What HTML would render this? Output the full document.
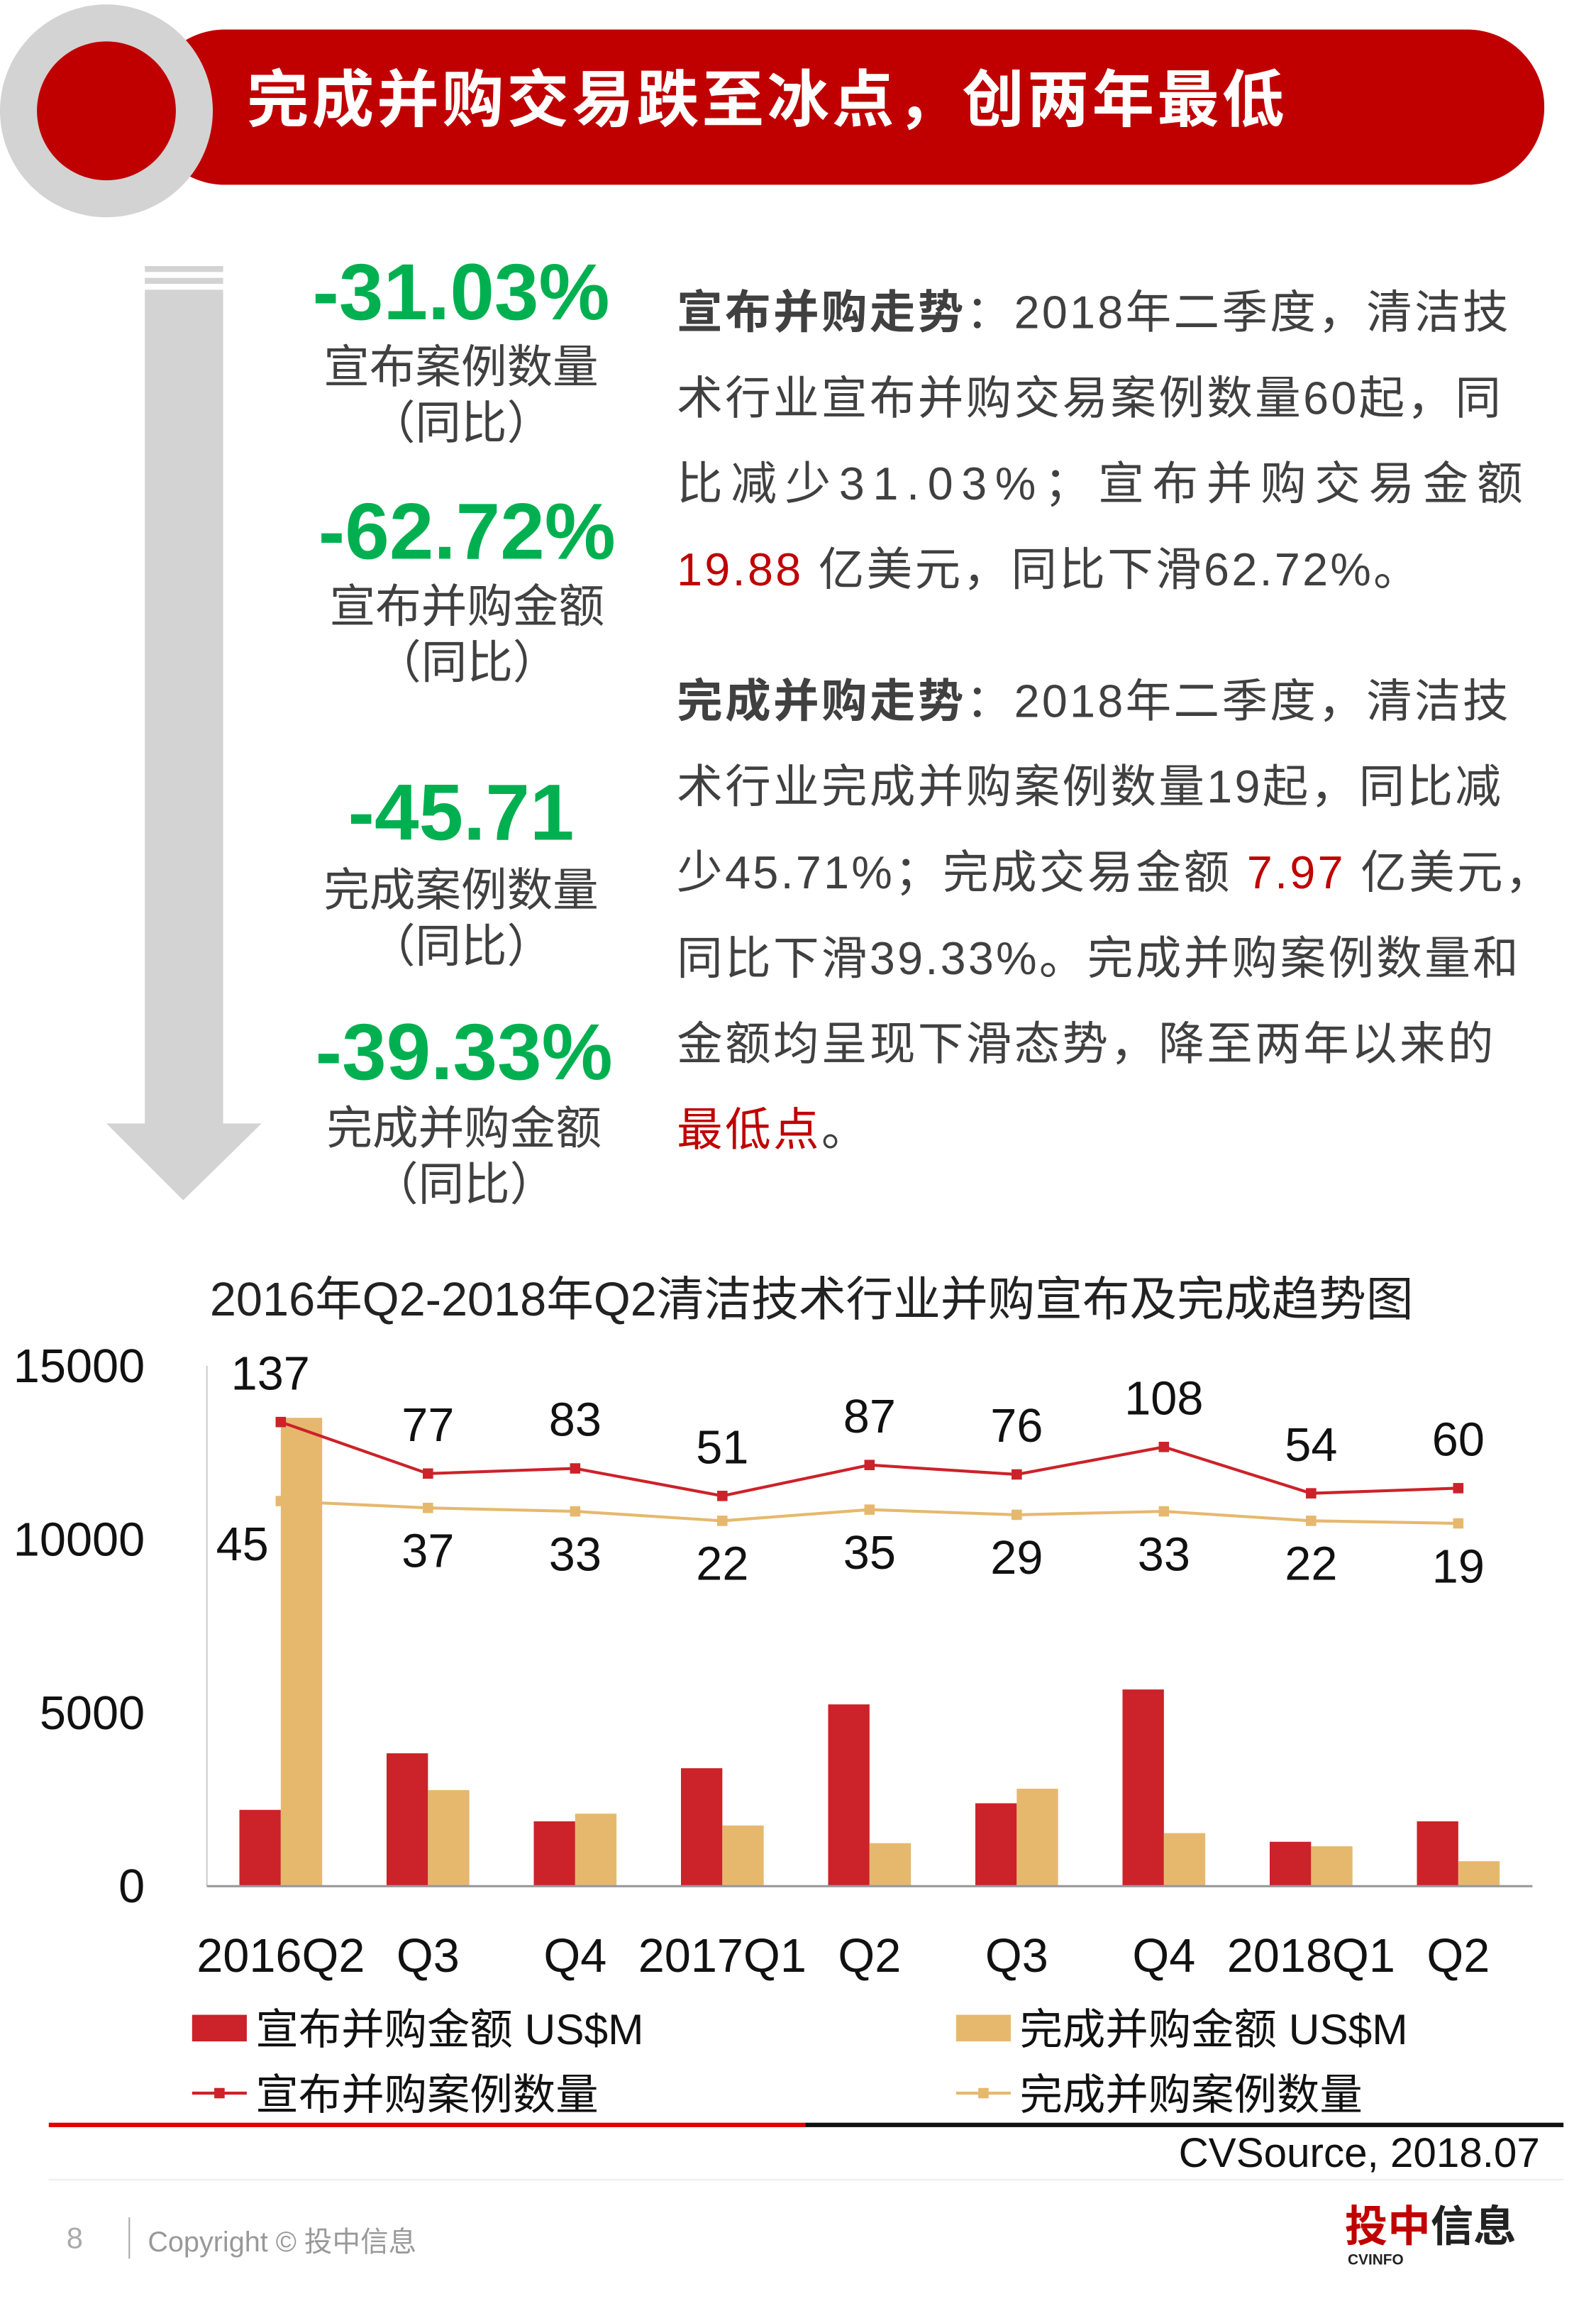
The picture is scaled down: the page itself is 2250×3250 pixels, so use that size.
<!DOCTYPE html>
<html><head><meta charset="utf-8">
<style>
html,body{margin:0;padding:0;background:#fff;width:2250px;height:3250px;overflow:hidden}
#page{position:absolute;left:0;top:0;width:1080px;height:1560px;transform:scale(2.083333);transform-origin:0 0;font-family:"Liberation Sans","Noto Sans CJK SC",sans-serif;color:#333}
.abs{position:absolute;white-space:nowrap}
.g{color:#00b050;font-weight:bold;font-size:54px;text-align:center;width:260px;left:182px;line-height:60px}
.lab{font-size:31px;color:#404040;text-align:center;width:260px;left:182px;line-height:38px}
.p{left:458px;font-size:31px;letter-spacing:1.6px;color:#404040;line-height:58px}
.r{color:#c00000}
b{color:#404040}
</style></head><body>
<div id="page">
<svg class="abs" style="left:0;top:0" width="1080" height="160">
<rect x="100" y="20" width="945" height="105" rx="52" fill="#c00000"/>
<circle cx="72" cy="75" r="72" fill="#d3d3d3"/>
<circle cx="72" cy="75" r="47" fill="#c00000"/>
</svg>
<div class="abs" style="left:167px;top:40px;font-size:42px;letter-spacing:2px;font-weight:bold;color:#fff;line-height:56px">完成并购交易跌至冰点，创两年最低</div>

<svg class="abs" style="left:60px;top:175px" width="130" height="645">
<rect x="38" y="5" width="53" height="4" fill="#d3d3d3"/>
<rect x="38" y="13" width="53" height="4" fill="#d3d3d3"/>
<rect x="38" y="21" width="53" height="565" fill="#d3d3d3"/>
<polygon points="12,585 117,585 64,637" fill="#d3d3d3"/>
</svg>

<div class="abs g" style="top:168px">-31.03%</div>
<div class="abs lab" style="top:230px">宣布案例数量<br>（同比）</div>
<div class="abs g" style="top:330px;left:186px">-62.72%</div>
<div class="abs lab" style="top:392px;left:186px">宣布并购金额<br>（同比）</div>
<div class="abs g" style="top:520px">-45.71</div>
<div class="abs lab" style="top:584px">完成案例数量<br>（同比）</div>
<div class="abs g" style="top:682px;left:184px">-39.33%</div>
<div class="abs lab" style="top:745px;left:184px">完成并购金额<br>（同比）</div>

<div class="abs p" style="top:183px"><b>宣布并购走势</b>：2018年二季度，清洁技<br>术行业宣布并购交易案例数量60起，同<br><span style="letter-spacing:5.6px">比减少31.03%；宣布并购交易金额</span><br><span class="r">19.88</span> 亿美元，同比下滑62.72%。</div>
<div class="abs p" style="top:446px"><b>完成并购走势</b>：2018年二季度，清洁技<br>术行业完成并购案例数量19起，同比减<br>少45.71%；完成交易金额 <span class="r">7.97</span> 亿美元，<br>同比下滑39.33%。完成并购案例数量和<br>金额均呈现下滑态势，降至两年以来的<br><span class="r">最低点</span>。</div>

<div class="abs" style="left:142px;top:854px;font-size:32px;color:#222">2016年Q2-2018年Q2清洁技术行业并购宣布及完成趋势图</div>

<svg id="chart" class="abs" style="left:0;top:896px" width="1080" height="560"></svg>

<div class="abs" style="left:33px;top:1436px;width:512px;height:3px;background:#e00000"></div>
<div class="abs" style="left:545px;top:1436px;width:513px;height:3px;background:#111"></div>
<div class="abs" style="right:38px;top:1441px;font-size:28px;color:#111">CVSource, 2018.07</div>
<div class="abs" style="left:33px;top:1474px;width:1025px;height:1px;background:#eee"></div>
<div class="abs" style="left:45px;top:1504px;font-size:20px;color:#aaa">8</div>
<div class="abs" style="left:87px;top:1500px;width:1px;height:28px;background:#aaa"></div>
<div class="abs" style="left:100px;top:1502px;font-size:19px;color:#999">Copyright © 投中信息</div>
<div class="abs" style="left:910px;top:1490px;font-size:29px;font-weight:bold;color:#c00000;line-height:34px">投中<span style="color:#222">信息</span></div>
<div class="abs" style="left:912px;top:1524px;font-size:10px;font-weight:bold;color:#222">CVINFO</div>
</div>
<script>
const categories=["2016Q2","Q3","Q4","2017Q1","Q2","Q3","Q4","2018Q1","Q2"];
const announcedAmount=[2200,3830,1870,3400,5240,2390,5670,1280,1870];
const completedAmount=[13500,2770,2090,1750,1240,2810,1530,1150,720];
const announcedCount=[137,77,83,51,87,76,108,54,60];
const completedCount=[45,37,33,22,35,29,33,22,19];
const yTicks=[0,5000,10000,15000];
const svg=document.getElementById('chart');
const NS='http://www.w3.org/2000/svg';
const OY=900;
function yL(v){return 1280-OY-v*0.02347;}
function yR(v){return 1045.6-OY-v*0.581;}
function xC(i){return 190+i*99.6;}
function mk(t,a,p){const e=document.createElementNS(NS,t);for(const k in a)e.setAttribute(k,a[k]);(p||svg).appendChild(e);return e;}
let e;
e=mk('line',{x1:140,y1:yL(15000),x2:140,y2:yL(0),stroke:'#ccc','stroke-width':1});


yTicks.forEach(v=>{
 e=mk('text',{x:98,y:yL(v)+11,'text-anchor':'end','font-size':32,fill:'#111'});e.textContent=v;
 
 
});
categories.forEach((c,i)=>{
 e=mk('rect',{x:xC(i)-28,y:yL(announcedAmount[i]),width:28,height:yL(0)-yL(announcedAmount[i]),fill:'#cc2229'});
 
 
 e=mk('rect',{x:xC(i),y:yL(completedAmount[i]),width:28,height:yL(0)-yL(completedAmount[i]),fill:'#e6b86e'});
 
 
 e=mk('text',{x:xC(i),y:yL(0)+58,'text-anchor':'middle','font-size':32,fill:'#111'});e.textContent=c;
 
 
});
e=mk('line',{x1:140,y1:yL(0),x2:1037,y2:yL(0),stroke:'#999','stroke-width':1.5});


function series(vals,color,name,dy,dx0){
 e=mk('polyline',{points:vals.map((v,i)=>xC(i)+','+yR(v)).join(' '),fill:'none',stroke:color,'stroke-width':2});
 
 
 vals.forEach((v,i)=>{
  e=mk('rect',{x:xC(i)-3.5,y:yR(v)-3.5,width:7,height:7,fill:color});
  
  
  e=mk('text',{x:xC(i)+(i==0?dx0:0),y:yR(v)+dy,'text-anchor':'middle','font-size':32,fill:'#111'});e.textContent=v;
  
  
 });
}
series(completedCount,'#e6b86e','completed-count',40,-26);
series(announcedCount,'#cc2229','announced-count',-22,-7);
function leg(x,y,kind,color,text,name){
 if(kind=='bar'){e=mk('rect',{x:x,y:y-9,width:37,height:18,fill:color});}
 else{const g=mk('g',{});mk('line',{x1:x,y1:y,x2:x+37,y2:y,stroke:color,'stroke-width':2},g);mk('rect',{x:x+15,y:y-3.5,width:7,height:7,fill:color},g);e=g;}
 
 
 e=mk('text',{x:x+43,y:y+11,'font-size':29,fill:'#111'});e.textContent=text;
 
 
}
leg(130,476,'bar','#cc2229','宣布并购金额 US$M','legend-announced-amount');
leg(647,476,'bar','#e6b86e','完成并购金额 US$M','legend-completed-amount');
leg(130,520,'line','#cc2229','宣布并购案例数量','legend-announced-count');
leg(647,520,'line','#e6b86e','完成并购案例数量','legend-completed-count');
</script>
</body></html>
